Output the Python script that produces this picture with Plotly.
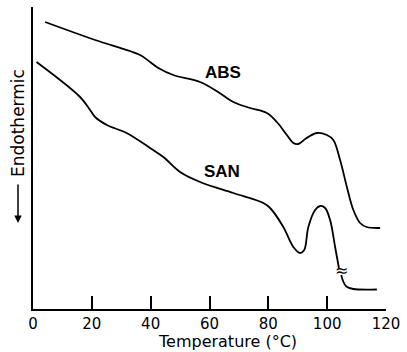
import plotly.graph_objects as go

# Data (arbitrary heat-flow units)
abs_temp = [4.1, 21.1, 36.4, 39.8, 42.6, 47.7, 56.8, 62.9, 68.1, 73.8, 79.5, 82.9, 86.3, 88.5, 90.2,
            93.0, 96.5, 99.9, 102.1, 104.4, 106.7, 108.9, 111.2, 113.4, 118.0]
abs_flow = [287, 269, 254, 247, 241, 234, 227, 217, 207, 201, 196, 187, 174, 166, 165,
            171, 176, 174, 169, 149, 122, 99, 86, 82, 81]

san_temp_a = [1.2, 16.0, 19.4, 21.1, 25.1, 31.8, 39.8, 44.3, 50.0, 56.8, 68.1, 78.3, 80.6,
              85.1, 88.5, 90.8, 92.2, 93.6, 95.9, 97.6, 99.3, 101.0, 102.7, 104.0]
san_flow_a = [247, 212, 199, 192, 184, 176, 161, 152, 137, 127, 116, 106, 101,
              82, 62, 56, 59, 82, 99, 103, 101, 89, 62, 41]
san_temp_b = [104.8, 105.4, 106.5, 108.9, 116.9]
san_flow_b = [34, 28, 22.5, 20, 19.5]

break_temp = [104.9]
break_flow = [37.5]

labels = ["ABS", "SAN"]
label_temp = [64.6, 64.2]
label_flow = [235, 136]

x_ticks = [0, 20, 40, 60, 80, 100, 120]

FONT = "DejaVu Sans"
line_style = dict(color="black", width=1.8, shape="spline", smoothing=1.0)

fig = go.Figure()
fig.add_trace(go.Scatter(x=abs_temp, y=abs_flow, mode="lines", line=line_style, showlegend=False))
fig.add_trace(go.Scatter(x=san_temp_a, y=san_flow_a, mode="lines", line=line_style, showlegend=False))
fig.add_trace(go.Scatter(x=san_temp_b, y=san_flow_b, mode="lines", line=line_style, showlegend=False))
fig.add_trace(go.Scatter(x=break_temp, y=break_flow, mode="text", text=["≈"],
                         textfont=dict(family=FONT, size=16, color="black"), showlegend=False))
fig.add_trace(go.Scatter(x=label_temp, y=label_flow, mode="text", text=labels,
                         textfont=dict(family="Liberation Sans", size=17, color="black", weight="bold"),
                         showlegend=False))

fig.update_layout(
    width=407, height=352,
    margin=dict(l=33, r=21, t=7, b=43),
    paper_bgcolor="white", plot_bgcolor="white",
    font=dict(family=FONT, color="black", size=15),
    xaxis=dict(range=[0, 120], tickvals=x_ticks, ticks="inside", ticklen=13, tickwidth=1.5,
               tickcolor="black", showline=True, linecolor="black", linewidth=2,
               showgrid=False, zeroline=False, tickfont=dict(size=15, family=FONT)),
    yaxis=dict(range=[0, 302], showticklabels=False, ticks="", showline=True, linecolor="black",
               linewidth=2, showgrid=False, zeroline=False),
    annotations=[
        dict(text="Temperature (°C)", xref="paper", yref="paper", x=(227 - 33) / 353,
             y=(309 - 341) / 302, xanchor="center", yanchor="middle", showarrow=False,
             font=dict(size=16, family=FONT)),
        dict(text="Endothermic", xref="paper", yref="paper", x=(18 - 33) / 353,
             y=(309 - 123) / 302, xanchor="center", yanchor="middle", textangle=-90,
             showarrow=False, font=dict(size=17, family=FONT)),
        dict(text="", xref="paper", yref="paper", x=(18 - 33) / 353, y=(309 - 223) / 302,
             ax=0, ay=-40, showarrow=True, arrowhead=2, arrowsize=1, arrowwidth=1.5,
             arrowcolor="black"),
    ],
)

fig.write_html("out.html")
